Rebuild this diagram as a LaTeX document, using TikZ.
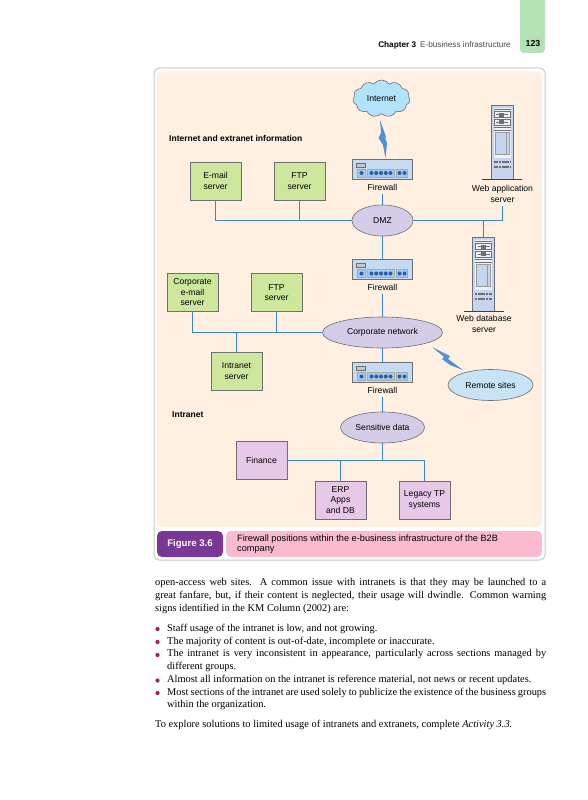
\documentclass[tikz,border=0pt]{standalone}
\usepackage{fontspec}
\setmainfont{Liberation Serif}
\setsansfont{Liberation Sans}
\usetikzlibrary{calc,shapes.geometric,shapes.symbols}
\definecolor{cream100}{HTML}{FFF0E1}
\definecolor{green300}{HTML}{CDE89D}
\definecolor{green200}{HTML}{B5E2B5}
\definecolor{plum200} {HTML}{E8C8E8}
\definecolor{lilac200}{HTML}{D5CCE8}
\definecolor{sky200}  {HTML}{B3E3FA}
\definecolor{sky100}  {HTML}{C8E3F5}
\definecolor{blue600} {HTML}{3A86D0}
\definecolor{blue500} {HTML}{4C8FDC}
\definecolor{blue800} {HTML}{1F5FAF}
\definecolor{steel200}{HTML}{C5DBF2}
\definecolor{steel300}{HTML}{A9C7E8}
\definecolor{tower200}{HTML}{C5D5F0}
\definecolor{tower100}{HTML}{EFF2FA}
\definecolor{grey700} {HTML}{6F6F6F}
\definecolor{grey300} {HTML}{C8C8C8}
\definecolor{plum700} {HTML}{7B3795}
\definecolor{pink200} {HTML}{FBBBCF}
\definecolor{berry600}{HTML}{A02060}
\tikzset{
  srv/.style    ={draw=grey700, line width=0.8pt, minimum width=51pt,
                  minimum height=38pt, align=center, inner sep=1pt, outer sep=0pt,
                  font=\sffamily\diagfont},
  srvg/.style   ={srv, fill=green300},
  srvp/.style   ={srv, fill=plum200},
  net/.style    ={ellipse, draw=grey700, line width=0.6pt, fill=lilac200, inner sep=0pt,
                  outer sep=0pt, font=\sffamily\diagfont},
  lbl/.style    ={align=center, inner xsep=1pt, inner ysep=3.5pt, outer sep=0pt,
                  font=\sffamily\diagfont},
  head/.style   ={anchor=west, inner sep=0pt, font=\sffamily\fontsize{8.5}{10.5}\selectfont\bfseries},
  ln/.style     ={draw=blue600, line width=1.1pt},
  bolt/.style   ={fill=blue500},
  fwbox/.style  ={draw=grey700, line width=0.6pt, fill=steel200, minimum width=60pt,
                  minimum height=20pt, inner sep=0pt, outer sep=0pt},
  fwpanel/.style={draw=grey700!60, line width=0.3pt, fill=steel300},
  twbox/.style  ={draw=grey700, line width=0.8pt, fill=tower200, minimum width=22pt,
                  minimum height=74pt, inner sep=0pt, outer sep=0pt},
  para/.style   ={anchor=north west, inner sep=0pt, align=justify,
                  font=\rmfamily\bodyfont}
}
\newcommand{\diagfont}{\fontsize{8.6}{10.5}\selectfont}
\newcommand{\bodyfont}{\fontsize{10.4}{12.75}\selectfont}
% #1 name, #2 x, #3 y of the centre
\newcommand{\firewall}[3]{%
  \node[fwbox] (#1) at (#2,#3) {};
  \begin{scope}[shift={(#1.center)}]
    \draw[grey700, line width=0.3pt, fill=grey300] (-26,-6) rectangle (-17,-2);
    \draw[fwpanel] (-25,0) rectangle (-17,8);
    \draw[fwpanel] (-15,0) rectangle (12,8);
    \draw[fwpanel] (14,0) rectangle (25,8);
    \foreach \dx in {-21,-11,-6.25,-1.5,3.25,8,17,22}
      \fill[blue800] (\dx,4) circle (2pt);
  \end{scope}}
\newcommand{\towerbox}[3]{%
  \node[twbox] (#1) at (#2,#3) {};
  \begin{scope}[shift={(#1.center)}]
    \fill[tower100] (-8.5,-34) rectangle (8.5,16);
    \draw[grey700, line width=0.9pt] (-8.5,-33) -- (8.5,-33);
    \foreach \uy in {-30.5,-23} {
      \draw[grey700, line width=0.3pt] (-8,\uy) rectangle (8,\uy+6);
      \draw[grey700, line width=0.5pt] (-6,\uy+3) -- (6,\uy+3);
      \fill[grey700] (-3,\uy+1) rectangle (2,\uy+5);
    }
    \draw[grey700, line width=0.4pt] (-8.5,-15) -- (8.5,-15);
    \draw[grey700, line width=0.4pt] (-8.5,-12) -- (8.5,-12);
    \draw[grey700!70, line width=0.5pt, fill=tower200] (-7,-10) rectangle (7,12);
    \draw[grey700!70, line width=0.4pt] (4,-10) -- (4,12);
    \foreach \uy in {20,25}
      \draw[grey700, line width=1.5pt, dash pattern=on 2.2pt off 0.5pt] (-8.5,\uy) -- (8.5,\uy);
    \draw[black!75, line width=1.2pt] (-20,37.5) -- (20,37.5);
  \end{scope}}
\begin{document}
\begin{tikzpicture}[x=1pt,y=-1pt]
\useasboundingbox (0,0) rectangle (588,800);
\fill[white] (0,0) rectangle (588,800);
% page furniture
\fill[green200, rounded corners=4pt] (520,-8) rectangle (545,53);
\node[inner sep=0pt, font=\sffamily\fontsize{8.8}{10}\selectfont\bfseries] (pageNo) at (533,43) {123};
\node[anchor=east, inner sep=0pt, font=\sffamily\fontsize{8.2}{10}\selectfont] (running) at (511,45)
  {\textbf{Chapter 3}\hspace{4pt}{\color{black!70}E-business infrastructure}};
% panel
\draw[grey300, line width=1pt, fill=white, rounded corners=5pt] (154,68) rectangle (545,560);
\fill[cream100, rounded corners=5pt] (157,71) rectangle (542,527);

\node[head] (extHead) at (169,138) {Internet and extranet information};
\node[head] (intHead) at (172,415) {Intranet};

\node[cloud, cloud puffs=11, cloud puff arc=110, aspect=1.6, draw=grey700, line width=0.6pt,
      fill=sky200, minimum width=57pt, minimum height=37pt, inner sep=0pt, outer sep=0pt,
      font=\sffamily\diagfont] (inet) at (381.5,98.5) {Internet};

\firewall{fwA}{382.5}{169}
\node[lbl] (fwAlbl) at (382.5,187) {Firewall};
\firewall{fwB}{382.5}{269.5}
\node[lbl] (fwBlbl) at (382.5,287) {Firewall};
\firewall{fwC}{382.5}{372.5}
\node[lbl] (fwClbl) at (382.5,390) {Firewall};

\node[net, minimum width=61pt, minimum height=31pt] (dmz) at (382.5,220.5) {DMZ};
\node[net, minimum width=120pt, minimum height=31pt] (corp) at (382.5,332.5) {Corporate network};
\node[net, minimum width=84pt, minimum height=31pt] (sens) at (382.5,427.5) {Sensitive data};
\node[net, fill=sky100, minimum width=85pt, minimum height=31pt] (remote) at (490.5,385) {Remote sites};

\node[srvg] (mail) at (215.5,181) {E-mail\\server};
\node[srvg] (ftpA) at (299.5,181) {FTP\\server};
\node[srvg] (cmail) at (192.5,292.5) {Corporate\\e-mail\\server};
\node[srvg] (ftpB) at (276.5,292.5) {FTP\\server};
\node[srvg] (intra) at (236.5,371) {Intranet\\server};
\node[srvp] (fin) at (261.5,460.5) {Finance};
\node[srvp] (erp) at (340.5,500) {ERP\\Apps\\and DB};
\node[srvp] (legacy) at (424.5,500) {Legacy TP\\systems};

\towerbox{webT}{502}{142}
\node[lbl, anchor=south] (webLbl) at (502.5,206) {Web application\\server};
\towerbox{dbT}{483.5}{274}
\node[lbl] (dbLbl) at (484,324) {Web database\\server};

% wiring
\draw[ln] (fwAlbl) -- (dmz);
\draw[ln] (dmz) -- (fwB);
\draw[ln] (fwBlbl) -- (corp);
\draw[ln] (corp) -- (fwC);
\draw[ln] (fwClbl) -- (sens);
\draw[ln] (mail.south) |- (dmz.west);
\draw[ln] (ftpA.south) |- (dmz.west);
\draw[ln] (dmz.east) -| (webLbl.south);
\draw[ln] (dbT.north) |- (dmz.east);
\draw[ln] (cmail.south) |- (corp.west);
\draw[ln] (ftpB.south) |- (corp.west);
\draw[ln] (intra.north) |- (corp.west);
\draw[ln] (sens.south) |- (fin.east);
\draw[ln] (erp.north) |- (fin.east);
\draw[ln] (legacy.north) |- (fin.east);

% the two radio links
\coordinate (boltA) at (380,120);
\coordinate (boltB) at (385.5,158);
\coordinate (boltC) at (432,347);
\coordinate (boltD) at (463,370);
\fill[bolt] (boltA) -- ++(6,17) -- ++(-1,1) -- ++(2,5) -- (boltB) -- ++(-2.5,-13) -- ++(-4.5,-7)
  -- ++(2.5,-5) -- cycle;
\fill[bolt] (boltC) -- ++(18,9) -- ++(-2,3) -- (boltD) -- ++(-13,-5) -- ++(-8,-6) -- ++(2,-2) -- cycle;

% caption
\node[fill=plum700, rounded corners=5pt, minimum width=66pt, minimum height=26pt, inner sep=0pt,
      text=white, font=\sffamily\fontsize{9.6}{11}\selectfont\bfseries] (figTag) at (190,544) {Figure 3.6};
\node[fill=pink200, rounded corners=5pt, minimum width=316pt, minimum height=26pt, inner sep=0pt] (capBar) at (384,544) {};
\node[anchor=west, inner sep=0pt, align=left, font=\sffamily\fontsize{9.2}{10}\selectfont] (capText) at (237,544)
  {Firewall positions within the e-business infrastructure of the B2B\\company};

% text below the figure
\node[para, text width=391pt] (paraA) at (155,578.5)
  {open-access web sites. A common issue with intranets is that they may be launched to a\linebreak
   great fanfare, but, if their content is neglected, their usage will dwindle. Common warning\linebreak
   signs identified in the KM Column (2002) are:};
\node[para, text width=379pt] (itemA) at (167,623.5) {Staff usage of the intranet is low, and not growing.};
\node[para, text width=379pt] (itemB) at (167,636.5) {The majority of content is out-of-date, incomplete or inaccurate.};
\node[para, text width=379pt] (itemC) at (167,649.5)
  {The intranet is very inconsistent in appearance, particularly across sections managed by\linebreak different groups.};
\node[para, text width=379pt] (itemD) at (167,675)
  {Almost all information on the intranet is reference material, not news or recent updates.};
\node[para, text width=379pt] (itemE) at (167,687.5)
  {Most sections of the intranet are used solely to publicize the existence of the business groups\linebreak within the organization.};
\node[para, text width=391pt] (paraB) at (155,720)
  {To explore solutions to limited usage of intranets and extranets, complete \textit{Activity 3.3.}};
\foreach \by in {629,642,655,680.5,693}
  \fill[berry600] (157.5,\by) circle (2.1pt);
\end{tikzpicture}
\end{document}
